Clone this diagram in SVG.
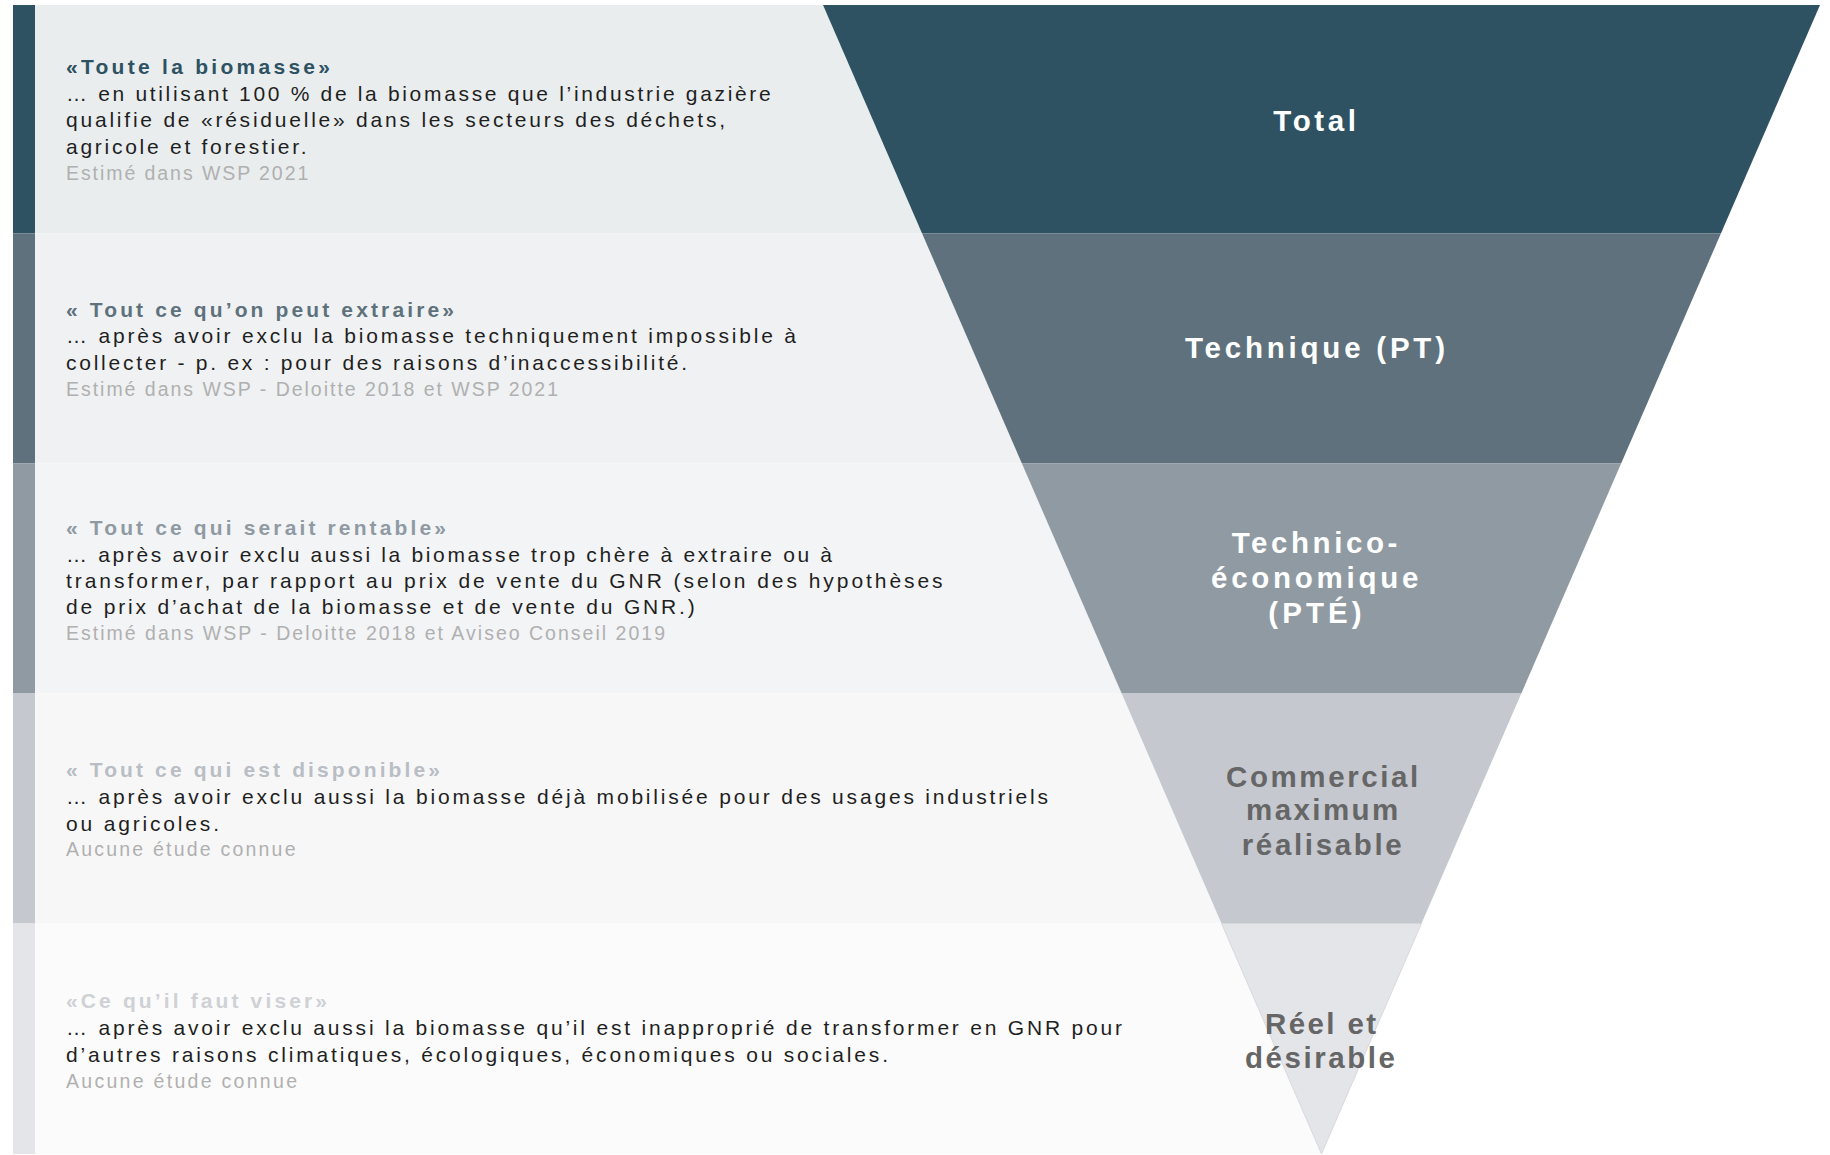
<svg xmlns="http://www.w3.org/2000/svg" width="1830" height="1155" viewBox="0 0 1830 1155">
<style>
text{font-family:"Liberation Sans",Arial,sans-serif;}
.t{font-size:21px;font-weight:bold;}
.b{font-size:21px;fill:#1f1f1f;}
.g{font-size:19.5px;fill:#b0b0b0;}
.f{font-size:29.5px;font-weight:bold;}
.w{fill:#ffffff;}
.d{fill:#666666;}
</style>
<rect x="0" y="0" width="1830" height="1155" fill="#ffffff"/>
<g id="band-total">
<rect x="13" y="5" width="22" height="228.5" fill="#2e5262"/>
<polygon points="35,5 823,5 922.1,233.5 35,233.5" fill="#e9edee"/>
<polygon points="823,5 1820,5 1720.9,233.5 922.1,233.5" fill="#2e5262"/>
<text class="t" x="66" y="74" fill="#2e5262" textLength="264" lengthAdjust="spacing">«Toute la biomasse»</text>
<text class="b" x="66" y="100.5" textLength="704.7" lengthAdjust="spacing">… en utilisant 100 % de la biomasse que l’industrie gazière</text>
<text class="b" x="66" y="127" textLength="659" lengthAdjust="spacing">qualifie de «résiduelle» dans les secteurs des déchets,</text>
<text class="b" x="66" y="153.5" textLength="240.7" lengthAdjust="spacing">agricole et forestier.</text>
<text class="g" x="66" y="180" textLength="242.3" lengthAdjust="spacing">Estimé dans WSP 2021</text>
<text class="f w" x="1273.3" y="130.7" textLength="82.7" lengthAdjust="spacing">Total</text>
</g>
<g id="band-technique">
<rect x="13" y="233.5" width="22" height="230" fill="#5e717c"/>
<polygon points="35,233.5 922.1,233.5 1021.9,463.5 35,463.5" fill="#eff1f2"/>
<polygon points="922.1,233.5 1720.9,233.5 1621.1,463.5 1021.9,463.5" fill="#5e717c"/>
<text class="t" x="66" y="316.7" fill="#5e717c" textLength="388" lengthAdjust="spacing">« Tout ce qu’on peut extraire»</text>
<text class="b" x="66" y="343.3" textLength="730" lengthAdjust="spacing">… après avoir exclu la biomasse techniquement impossible à</text>
<text class="b" x="66" y="370" textLength="621" lengthAdjust="spacing">collecter - p. ex : pour des raisons d’inaccessibilité.</text>
<text class="g" x="66" y="396" textLength="492" lengthAdjust="spacing">Estimé dans WSP - Deloitte 2018 et WSP 2021</text>
<text class="f w" x="1185" y="358.3" textLength="260" lengthAdjust="spacing">Technique (PT)</text>
</g>
<g id="band-technico-economique">
<rect x="13" y="463.5" width="22" height="230" fill="#8f9aa3"/>
<polygon points="35,463.5 1021.9,463.5 1121.7,693.5 35,693.5" fill="#f3f4f6"/>
<polygon points="1021.9,463.5 1621.1,463.5 1521.3,693.5 1121.7,693.5" fill="#8f9aa3"/>
<text class="t" x="66" y="535" fill="#8f9aa3" textLength="380" lengthAdjust="spacing">« Tout ce qui serait rentable»</text>
<text class="b" x="66" y="561.7" textLength="766" lengthAdjust="spacing">… après avoir exclu aussi la biomasse trop chère à extraire ou à</text>
<text class="b" x="66" y="588.3" textLength="876.6" lengthAdjust="spacing">transformer, par rapport au prix de vente du GNR (selon des hypothèses</text>
<text class="b" x="66" y="614" textLength="628.7" lengthAdjust="spacing">de prix d’achat de la biomasse et de vente du GNR.)</text>
<text class="g" x="66" y="640" textLength="599" lengthAdjust="spacing">Estimé dans WSP - Deloitte 2018 et Aviseo Conseil 2019</text>
<text class="f w" x="1231.7" y="553.3" textLength="165.6" lengthAdjust="spacing">Technico-</text>
<text class="f w" x="1211" y="588.3" textLength="207.3" lengthAdjust="spacing">économique</text>
<text class="f w" x="1268.3" y="622.7" textLength="93.4" lengthAdjust="spacing">(PTÉ)</text>
</g>
<g id="band-commercial">
<rect x="13" y="693.5" width="22" height="230" fill="#c5c8cf"/>
<polygon points="35,693.5 1121.7,693.5 1221.5,923.5 35,923.5" fill="#f7f7f8"/>
<polygon points="1121.7,693.5 1521.3,693.5 1421.5,923.5 1221.5,923.5" fill="#c5c8cf"/>
<text class="t" x="66" y="777.3" fill="#b9bdc4" textLength="374" lengthAdjust="spacing">« Tout ce qui est disponible»</text>
<text class="b" x="66" y="804" textLength="982" lengthAdjust="spacing">… après avoir exclu aussi la biomasse déjà mobilisée pour des usages industriels</text>
<text class="b" x="66" y="831" textLength="153" lengthAdjust="spacing">ou agricoles.</text>
<text class="g" x="66" y="855.7" textLength="229.5" lengthAdjust="spacing">Aucune étude connue</text>
<text class="f d" x="1226" y="786.7" textLength="192.3" lengthAdjust="spacing">Commercial</text>
<text class="f d" x="1246" y="820" textLength="152.3" lengthAdjust="spacing">maximum</text>
<text class="f d" x="1241.7" y="855" textLength="160" lengthAdjust="spacing">réalisable</text>
</g>
<g id="band-reel">
<rect x="13" y="923.5" width="22" height="230.5" fill="#e4e5e9"/>
<polygon points="35,923.5 1221.5,923.5 1321.5,1154 35,1154" fill="#fbfbfb"/>
<polygon points="1221.5,923.5 1421.5,923.5 1321.5,1154" fill="#e4e5e9" stroke="#d2d3d7" stroke-width="0.8"/>
<text class="t" x="66" y="1008.3" fill="#cfd1d5" textLength="261" lengthAdjust="spacing">«Ce qu’il faut viser»</text>
<text class="b" x="66" y="1035" textLength="1056" lengthAdjust="spacing">… après avoir exclu aussi la biomasse qu’il est inapproprié de transformer en GNR pour</text>
<text class="b" x="66" y="1061.7" textLength="822" lengthAdjust="spacing">d’autres raisons climatiques, écologiques, économiques ou sociales.</text>
<text class="g" x="66" y="1088.3" textLength="231" lengthAdjust="spacing">Aucune étude connue</text>
<text class="f d" x="1265" y="1034" textLength="111" lengthAdjust="spacing">Réel et</text>
<text class="f d" x="1245" y="1068.3" textLength="150" lengthAdjust="spacing">désirable</text>
</g>
<g id="connectors"/>
</svg>
